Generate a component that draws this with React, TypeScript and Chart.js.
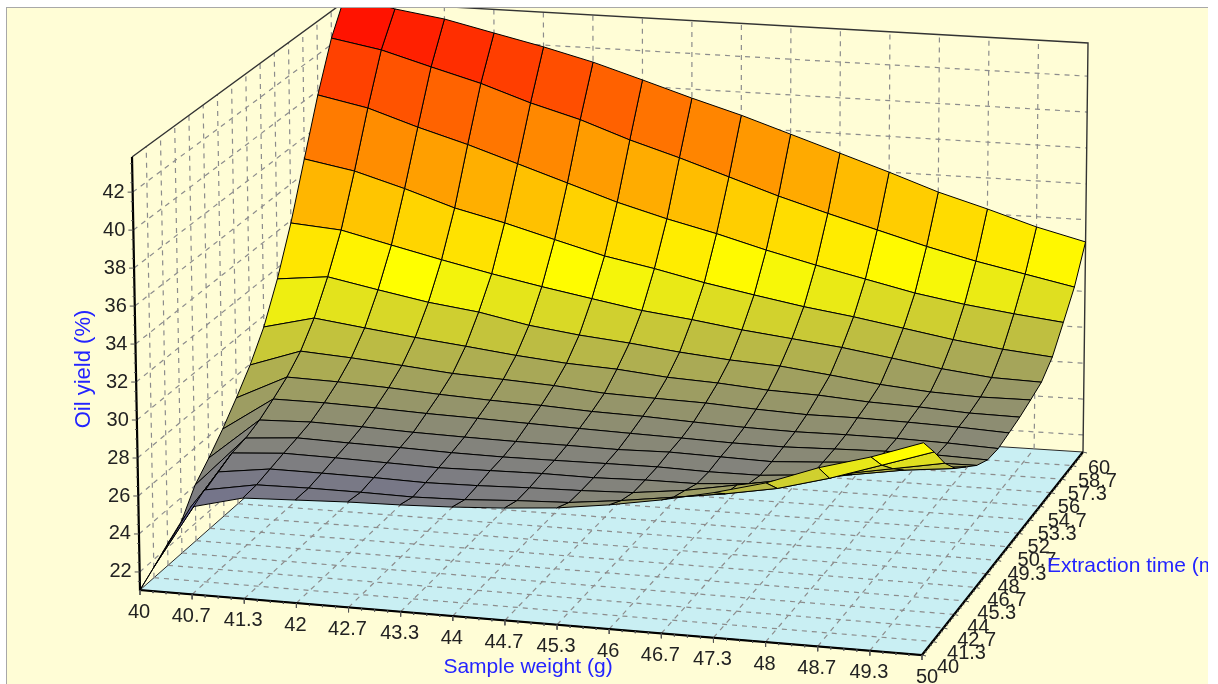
import React, { useEffect, useRef } from "react";
import { Chart, registerables } from "chart.js";

Chart.register(...registerables);

const sampleWeightLabels = ["40","40.7","41.3","42","42.7","43.3","44","44.7","45.3","46","46.7","47.3","48","48.7","49.3","50"];
const extractionTimeLabels = ["40","41.3","42.7","44","45.3","46.7","48","49.3","50.7","52","53.3","54.7","56","57.3","58.7","60"];
const oilYieldTicks = [22,24,26,28,30,32,34,36,38,40,42];

const t400 = [21.05,25.64,26.34,26.46,26.58,26.65,26.76,26.93,27.16,27.54,28.02,28.62,29.35,30.36,31.14,32.1];
const t413 = [21.6,25.91,26.4,26.45,26.45,26.42,26.5,26.67,26.79,27.11,27.5,27.9,28.4,29.15,30.05,30.96];
const t427 = [22.2,26.23,26.6,26.6,26.58,26.53,26.59,26.69,26.76,26.87,27.2,27.7,28.2,28.7,29.2,29.7];
const t440 = [22.75,26.6,26.8,26.77,26.72,26.67,26.73,26.79,26.78,26.87,26.89,27.1,27.5,28.0,28.45,28.75];
const t453 = [24.03,26.76,26.98,26.92,26.88,26.82,26.8,26.83,26.87,26.9,26.85,26.87,27.1,27.7,27.88,28.15];
const t467 = [24.84,27.09,27.19,27.14,27.05,27.0,26.97,26.97,26.95,27.02,26.97,26.92,27.1,27.3,27.5,27.54];
const t480 = [25.75,27.58,27.58,27.51,27.41,27.35,27.28,27.21,27.15,27.1,27.04,27.03,27.12,27.2,27.2,27.14];
const t493 = [26.8,28.13,28.07,27.95,27.79,27.67,27.59,27.46,27.4,27.29,27.2,27.16,27.2,27.2,27.15,27.05];
const t507 = [27.95,28.9,28.73,28.51,28.27,28.14,28.0,27.78,27.7,27.64,27.5,27.4,27.42,27.38,27.31,27.19];
const t520 = [29.39,30.07,29.72,29.39,29.1,28.79,28.55,28.42,28.17,28.05,27.85,27.77,27.59,27.51,27.37,27.34];
const t533 = [31.4,31.7,31.17,30.67,30.32,29.78,29.43,29.18,28.87,28.63,28.48,28.18,27.85,27.63,27.54,27.57];
const t547 = [33.86,33.65,33.0,32.37,31.78,31.25,30.77,30.3,29.98,29.6,29.3,29.0,28.6,28.2,27.9,27.83];
const t560 = [36.8,36.3,35.5,34.6,33.95,33.2,32.47,31.95,31.35,30.85,30.38,30.0,29.55,29.1,28.75,28.5];
const t573 = [39.76,39.2,38.3,37.5,36.6,35.7,34.8,34.05,33.4,32.66,32.0,31.4,30.8,30.35,30.0,29.7];
const t587 = [42.35,41.85,41.06,40.3,39.37,38.6,37.63,36.8,35.9,35.0,34.2,33.45,32.7,32.05,31.5,30.95];
const t600 = [44.2,43.56,43.15,42.52,41.9,41.2,40.36,39.5,38.7,37.8,36.9,36.0,35.05,34.27,33.43,32.76];
const surfaceRows = [t400,t413,t427,t440,t453,t467,t480,t493,t507,t520,t533,t547,t560,t573,t587,t600];

const Z_MIN = 21.05;
const Z_MAX = 43.85;
const N = 15;

// camera: where the floor corners and the vertical direction land on the scales
const floorA = { x: 140, y: 590, h: 433 };
const floorB = { x: 922, y: 655, h: 438 };
const floorC = { x: 1083, y: 452, h: 409 };
const floorD = { x: 350, y: 405, h: 404 };
const vanish = { x: 706, y: 31250 };

function project(i: number, j: number, z: number) {
  const u = i / N, v = j / N;
  const mix = (k: "x" | "y" | "h") =>
    (1 - u) * (1 - v) * floorA[k] + u * (1 - v) * floorB[k] + u * v * floorC[k] + (1 - u) * v * floorD[k];
  const fx = mix("x"), fy = mix("y"), h = mix("h");
  const rise = ((z - Z_MIN) / (Z_MAX - Z_MIN)) * h;
  return { x: fx - ((vanish.x - fx) / (vanish.y - fy)) * rise, y: fy - rise };
}

function shade(z: number) {
  const lerp = (a: number, b: number, t: number) => Math.round(a + (b - a) * Math.min(1, Math.max(0, t)));
  if (z < 31.5) {
    const t = (z - 22) / 9.5;
    return `rgb(${lerp(0, 255, t)},${lerp(0, 255, t)},${lerp(255, 0, t)})`;
  }
  const t = (z - 31.5) / 12.1;
  return `rgb(255,${lerp(255, 0, t)},0)`;
}

type Pt = { x: number; y: number };
const GAP: Pt = { x: NaN, y: NaN };

function path(points: Pt[], color: string, width: number, dash: number[] = [], fill?: string) {
  return {
    data: points,
    showLine: true,
    pointRadius: 0,
    pointHoverRadius: 0,
    borderColor: color,
    borderWidth: width,
    borderDash: dash,
    backgroundColor: fill ?? "transparent",
    fill: fill ? "shape" : false,
    spanGaps: false,
    tension: 0,
  };
}

function buildDatasets() {
  const drawn: any[] = [];
  const grid = "#8c8c8c";
  const dash = [5, 5];
  const zTop = Z_MAX;
  const zBot = Z_MIN;

  // floor
  drawn.push(path([project(0,0,zBot),project(N,0,zBot),project(N,N,zBot),project(0,N,zBot),project(0,0,zBot)], "#2a2a2a", 1, [], "#c9eff3"));

  // walls grid
  for (let k = 1; k < N; k++) {
    drawn.push(path([project(k,0,zBot),project(k,N,zBot)], grid, 1.2, dash));
    drawn.push(path([project(0,k,zBot),project(N,k,zBot)], grid, 1.2, dash));
    drawn.push(path([project(k,N,zBot),project(k,N,zTop)], grid, 1.2, dash));
    drawn.push(path([project(0,k,zBot),project(0,k,zTop)], grid, 1.2, dash));
  }
  for (const z of oilYieldTicks) {
    drawn.push(path([project(0,0,z),project(0,N,z)], grid, 1.2, dash));
    drawn.push(path([project(0,N,z),project(N,N,z)], grid, 1.2, dash));
  }

  // wall outline
  drawn.push(path([project(0,0,zTop),project(0,N,zTop),project(N,N,zTop),project(N,N,zBot)], "#333333", 1.4));

  // surface, far row first; a cell takes its colour from its edge at the larger weight
  for (let j = N - 1; j >= 0; j--) {
    for (let i = N - 1; i >= 0; i--) {
      const a = surfaceRows[j][i], b = surfaceRows[j][i + 1], c = surfaceRows[j + 1][i + 1], d = surfaceRows[j + 1][i];
      const color = shade((b + c) / 2);
      const first = project(i, j, a);
      drawn.push(path([first, project(i + 1, j, b), project(i + 1, j + 1, c), project(i, j + 1, d), first], "#000000", 1, [], color));
    }
  }

  // axes
  drawn.push(path([project(0,0,zTop),project(0,0,zBot),project(N,0,zBot),project(N,N,zBot)], "#000000", 2.2));

  // ticks
  const ticks: Pt[] = [];
  for (let z = 21.5; z < Z_MAX; z += 0.5) {
    const p = project(0, 0, z);
    const len = z % 2 === 0 ? 5 : 2;
    ticks.push({ x: p.x - len, y: p.y }, { x: p.x, y: p.y }, GAP);
  }
  for (let s = 0; s <= N * 4; s++) {
    const major = s % 4 === 0;
    const p = project(s / 4, 0, zBot);
    ticks.push({ x: p.x, y: p.y }, { x: p.x, y: p.y + (major ? 5 : 2) }, GAP);
    const q = project(N, s / 4, zBot);
    ticks.push({ x: q.x, y: q.y }, { x: q.x + (major ? 4 : 2), y: q.y + (major ? 1 : 0.5) }, GAP);
  }
  drawn.push(path(ticks, "#555555", 1));

  return drawn.reverse();
}

const frame = {
  id: "frame",
  beforeDraw(chart: any) {
    const { ctx, chartArea: a } = chart;
    ctx.save();
    ctx.fillStyle = "#fffdd6";
    ctx.fillRect(a.left, a.top, a.right - a.left, a.bottom - a.top);
    ctx.fillStyle = "#a8a8a8";
    ctx.fillRect(a.left - 1, a.top - 1, a.right - a.left + 1, 1);
    ctx.fillRect(a.left - 1, a.top - 1, 1, a.bottom - a.top + 1);
    ctx.restore();
  },
  afterDatasetsDraw(chart: any) {
    const { ctx, chartArea: a, scales } = chart;
    const sx = (v: number) => scales.x.getPixelForValue(v);
    const sy = (v: number) => scales.y.getPixelForValue(v);
    ctx.save();
    ctx.beginPath();
    ctx.rect(a.left, a.top, a.right - a.left, a.bottom - a.top);
    ctx.clip();
    ctx.font = '20px "Liberation Sans", Arial, sans-serif';
    ctx.fillStyle = "#222222";
    ctx.textBaseline = "middle";

    ctx.textAlign = "right";
    for (const z of oilYieldTicks) {
      const p = project(0, 0, z);
      ctx.fillText(String(z), sx(p.x) - 8, sy(p.y));
    }
    ctx.textAlign = "center";
    sampleWeightLabels.forEach((label, i) => {
      const p = project(i, 0, Z_MIN);
      ctx.fillText(label, sx(p.x) + (i === N ? 5 : -1), sy(p.y) + 22);
    });
    ctx.textAlign = "left";
    extractionTimeLabels.forEach((label, j) => {
      const p = project(N, j, Z_MIN);
      ctx.fillText(label, sx(p.x) + 15 - (10 * j) / N, sy(p.y) + 12 + (4 * j) / N);
    });

    ctx.fillStyle = "#2424ff";
    ctx.font = '21px "Liberation Sans", Arial, sans-serif';
    ctx.textAlign = "center";
    ctx.fillText("Sample weight (g)", sx(528), sy(667));
    ctx.textAlign = "left";
    ctx.fillText("Extraction time (min)", sx(1047), sy(566));
    ctx.translate(sx(84), sy(369));
    ctx.rotate(-Math.PI / 2);
    ctx.textAlign = "center";
    ctx.font = '22px "Liberation Sans", Arial, sans-serif';
    ctx.fillText("Oil yield (%)", 0, 0);
    ctx.restore();
  },
};

export default function App() {
  const ref = useRef<HTMLCanvasElement>(null);
  useEffect(() => {
    document.body.style.margin = "0";
    document.body.style.background = "#ffffff";
    const chart = new Chart(ref.current as HTMLCanvasElement, {
      type: "scatter",
      data: { datasets: buildDatasets() },
      options: {
        animation: false,
        responsive: false,
        events: [],
        layout: { padding: { left: 7, top: 8, right: 10, bottom: 0 } },
        plugins: { legend: { display: false }, tooltip: { enabled: false } },
        scales: {
          x: { type: "linear", display: false, min: 7, max: 1208 },
          y: { type: "linear", display: false, min: 8, max: 684, reverse: true },
        },
      },
      plugins: [frame],
    } as any);
    return () => chart.destroy();
  }, []);
  return <canvas ref={ref} width={1218} height={684} style={{ display: "block" }} />;
}
